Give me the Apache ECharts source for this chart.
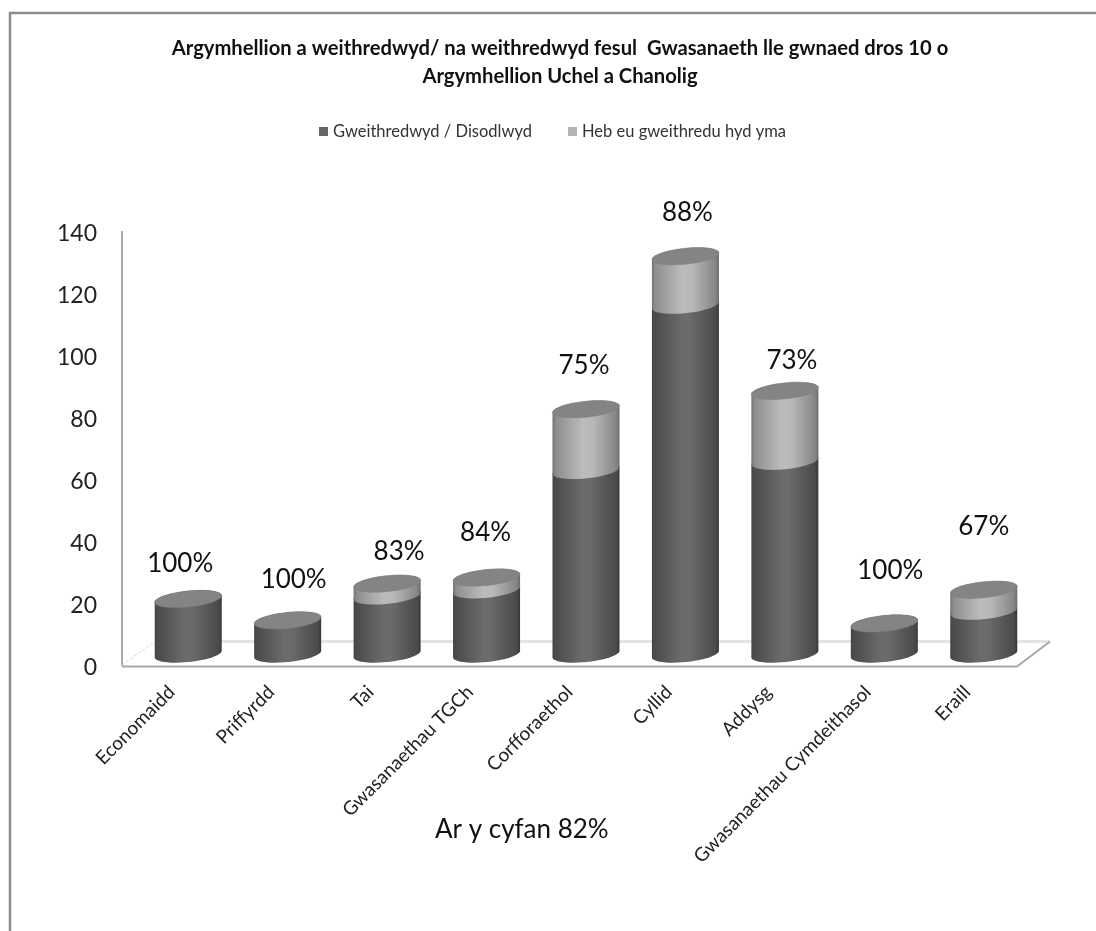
<!DOCTYPE html>
<html><head><meta charset="utf-8">
<style>html,body{margin:0;padding:0;background:#fff}#c{width:1096px;height:931px}</style>
<script src="https://cdn.jsdelivr.net/npm/echarts@6/dist/echarts.min.js"></script>
</head><body><div id="c"></div>
<script>
const categories = ['Economaidd','Priffyrdd','Tai','Gwasanaethau TGCh','Corfforaethol','Cyllid','Addysg','Gwasanaethau Cymdeithasol','Eraill'];
const implemented = [18,11,19,21,60,114,63,10,14];
const notYet = [0,0,4,4,20,16,23,0,7];
const percentLabels = ['100%','100%','83%','84%','75%','88%','73%','100%','67%'];
const yTicks = [0,20,40,60,80,100,120,140];

// layout only: label nudges in pixels from each column's top
const NUDGE = [[-8,-35],[6,-41],[12,-32],[-1,-45],[-2,-44],[2,-44],[7,-30],[6,-53],[0,-63]];
const FONT = 'Lato';
const BAND = 67, TILT = -6 * Math.PI / 180, RY = 8;
const RX = (BAND / 2) / Math.cos(TILT);

function arc(cx, cy, from, to) {
  const pts = [];
  for (let k = 0; k <= 24; k++) {
    const t = from + (to - from) * k / 24;
    const u = RX * Math.cos(t), v = RY * Math.sin(t);
    pts.push([cx + u * Math.cos(TILT) - v * Math.sin(TILT), cy + u * Math.sin(TILT) + v * Math.cos(TILT)]);
  }
  return pts;
}
function grad(stops) {
  return {type:'linear',x:0,y:0,x2:1,y2:0,colorStops:stops.map(s=>({offset:s[0],color:s[1]}))};
}
const DARK = grad([[0,'#414141'],[0.03,'#4a4a4a'],[0.45,'#6b6b6b'],[0.55,'#6b6b6b'],[0.95,'#4a4a4a'],[1,'#383838']]);
const LIGHT = grad([[0,'#727272'],[0.05,'#8e8e8e'],[0.45,'#bcbcbc'],[0.6,'#b8b8b8'],[0.95,'#858585'],[1,'#6a6a6a']]);

function body(cx, yBottom, yTop, fill) {
  const pts = arc(cx, yTop, Math.PI, 2 * Math.PI).concat(arc(cx, yBottom, 0, Math.PI));
  return {type:'polygon',shape:{points:pts},style:{fill}};
}
function cap(cx, y) {
  const pts = arc(cx, y, 0, 2 * Math.PI);
  return {type:'polygon',shape:{points:pts},style:{fill:'#848484',stroke:'#7e7e7e',lineWidth:0.5}};
}
function renderDark(params, api) {
  const i = api.value(0), p0 = api.coord([i,0]), p1 = api.coord([i,api.value(1)]);
  return {type:'group',children:[body(p0[0],p0[1],p1[1],DARK)]};
}
function renderLight(params, api) {
  const i = api.value(0), a = api.value(1), b = api.value(2);
  const p1 = api.coord([i,a]), p2 = api.coord([i,a+b]);
  const children = [];
  if (b > 0) children.push(body(p1[0],p1[1],p2[1],LIGHT));
  children.push(cap(p2[0],p2[1]));
  children.push({type:'text',style:{
    x:p2[0]+NUDGE[i][0], y:p2[1]+NUDGE[i][1], text:percentLabels[i],
    font:'26px "'+FONT+'"', fill:'#111', align:'center', verticalAlign:'middle'}});
  return {type:'group',children};
}

const chart = echarts.init(document.getElementById('c'),null,{renderer:'canvas'});
chart.setOption({
  animation:false,
  backgroundColor:'#fff',
  title:{
    text:'Argymhellion a weithredwyd/ na weithredwyd fesul  Gwasanaeth lle gwnaed dros 10 o\nArgymhellion Uchel a Chanolig',
    left:555, top:29, textAlign:'center',
    textStyle:{fontFamily:FONT,fontSize:20.2,fontWeight:'bold',color:'#111',lineHeight:28}
  },
  legend:{
    top:118,left:314,itemWidth:9,itemHeight:9,itemGap:36,icon:'rect',
    textStyle:{fontFamily:FONT,fontSize:16.5,color:'#333'},
    data:['Gweithredwyd / Disodlwyd','Heb eu gweithredu hyd yma']
  },
  grid:[
    {left:122,width:895,top:234,height:434},
    {left:138.5,width:895,top:225.6,height:428.4}
  ],
  xAxis:[
    {type:'category',gridIndex:0,data:categories,
     axisLine:{show:false},axisTick:{show:false},
     axisLabel:{rotate:45,interval:0,margin:21,fontFamily:FONT,fontSize:19,color:'#222'}},
    {type:'category',gridIndex:1,data:categories,show:false}
  ],
  yAxis:[
    {type:'value',gridIndex:0,min:0,max:140,interval:20,
     axisLine:{show:false},axisTick:{show:false},splitLine:{show:false},
     axisLabel:{fontFamily:FONT,fontSize:23,color:'#222',margin:25,
       formatter:v=>yTicks.includes(v)?String(v):''}},
    {type:'value',gridIndex:1,min:0,max:140,interval:20,show:false}
  ],
  graphic:[
    {type:'polyline',z:0,shape:{points:[[10,931],[10,13],[1096,13]]},style:{fill:'none',stroke:'#8c8c8c',lineWidth:2.5}},
    {type:'polyline',z:0,shape:{points:[[122,231],[122,666]]},style:{fill:'none',stroke:'#a8a8a8',lineWidth:2}},
    {type:'polyline',z:0,shape:{points:[[155,641.5],[1050,641.5]]},style:{fill:'none',stroke:'#e4e4e4',lineWidth:3}},
    {type:'polyline',z:0,shape:{points:[[122,665],[155,641.5]]},style:{fill:'none',stroke:'#d8d8d8',lineWidth:1,lineDash:[3,2]}},
    {type:'polyline',z:0,shape:{points:[[122,666.5],[1017,666.5],[1050,641.5]]},style:{fill:'none',stroke:'#a8a8a8',lineWidth:2}},
    {type:'text',z:5,left:435,top:817,style:{text:'Ar y cyfan 82%',font:'26px "'+FONT+'"',fill:'#111'}}
  ],
  series:[
    {name:'Gweithredwyd / Disodlwyd',type:'custom',xAxisIndex:1,yAxisIndex:1,clip:false,
     itemStyle:{color:'#666'},encode:{x:0,y:1},
     renderItem:renderDark,data:implemented.map((v,i)=>[i,v])},
    {name:'Heb eu gweithredu hyd yma',type:'custom',xAxisIndex:1,yAxisIndex:1,clip:false,
     itemStyle:{color:'#b4b4b4'},encode:{x:0,y:1},
     renderItem:renderLight,data:notYet.map((v,i)=>[i,implemented[i],v])}
  ]
});
</script></body></html>
